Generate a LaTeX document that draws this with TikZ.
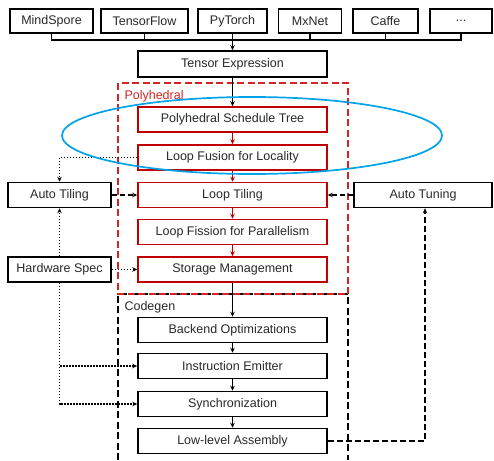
\documentclass[tikz,border=0pt]{standalone}
\usepackage{fontspec}
\setmainfont{Liberation Sans}
\usetikzlibrary{arrows.meta}

\definecolor{txtgray}{RGB}{40,40,40}
\definecolor{boxred}{RGB}{192,0,0}
\definecolor{dashred}{RGB}{212,36,36}
\definecolor{ellblue}{RGB}{0,162,232}

\begin{document}
\begin{tikzpicture}[x=1pt,y=-1pt,
  lbl/.style={font=\fontsize{12.5}{14}\selectfont, text=txtgray},
  box/.style={lbl, draw=black, line width=1.5pt, minimum width=189pt,
              minimum height=25pt, inner sep=0pt},
  redbox/.style={box, draw=boxred},
  tip/.style={-{Stealth[length=5pt,width=4.5pt]}},
  arr/.style={tip, line width=1.3pt},
  redarr/.style={arr, draw=boxred},
  dotarr/.style={arr, line width=1.5pt, dash pattern=on 1.5pt off 1.5pt},
  dasharr/.style={arr, line width=1.4pt, dash pattern=on 5pt off 3pt},
  bus/.style={line width=1.3pt}
]
\useasboundingbox (0,0) rectangle (494,460);

% front-end frameworks
\node[box, minimum width=83pt, minimum height=24pt] (ms) at (51.5,21) {MindSpore};
\node[box, minimum width=87pt, minimum height=24pt] (tf) at (144.5,21) {TensorFlow};
\node[box, minimum width=69pt, minimum height=24pt] (pt) at (232.5,21) {PyTorch};
\node[box, minimum width=63pt, minimum height=24pt] (mx) at (310,21) {MxNet};
\node[box, minimum width=65pt, minimum height=24pt] (cf) at (385.5,21) {Caffe};
\node[box, minimum width=62pt, minimum height=24pt] (more) at (461,21) {...};

% tensor expression
\node[box, minimum height=26pt] (te) at (232.5,64) {Tensor Expression};

% codegen region (open at the bottom)
\draw[line width=1.6pt, dash pattern=on 7pt off 3.5pt]
  (118,460) -- (118,294) -- (348,294) -- (348,460);
\node[lbl, anchor=west] (cglbl) at (121,307.5) {Codegen};

% polyhedral region
\draw[dashred, line width=1.6pt, dash pattern=on 7pt off 3.5pt]
  (118,83) rectangle (348,294);
\node[lbl, anchor=west, text=dashred] (phlbl) at (121,96.5) {Polyhedral};

% polyhedral passes
\node[redbox] (pst) at (232.5,119.5) {Polyhedral Schedule Tree};
\node[redbox] (lf)  at (232.5,157.5) {Loop Fusion for Locality};
\node[redbox] (lt)  at (232.5,195)   {Loop Tiling};
\node[redbox] (lfp) at (232.5,232)   {Loop Fission for Parallelism};
\node[redbox] (sm)  at (232.5,269.5) {Storage Management};

% codegen passes
\node[box] (bo) at (232.5,330) {Backend Optimizations};
\node[box] (ie) at (232.5,366) {Instruction Emitter};
\node[box] (sy) at (232.5,404) {Synchronization};
\node[box] (ll) at (232.5,441) {Low-level Assembly};

% side boxes
\node[box, minimum width=103pt] (at)  at (59.5,195)  {Auto Tiling};
\node[box, minimum width=103pt] (hw)  at (59.5,269.5) {Hardware Spec};
\node[box, minimum width=138pt] (atu) at (423,195)   {Auto Tuning};

% framework bus
\coordinate (busy) at (0,40);
\draw[bus] (ms.south) -- (ms.south |- busy) -- (more.south |- busy) -- (more.south);
\draw[bus] (tf.south) -- (tf.south |- busy);
\draw[bus] (mx.south) -- (mx.south |- busy);
\draw[bus] (cf.south) -- (cf.south |- busy);
\draw[arr] (pt.south) -- (te.north);

% main flow
\draw[arr] (te.south) -- (pst.north);
\draw[redarr] (pst.south) -- (lf.north);
\draw[redarr] (lf.south) -- (lt.north);
\draw[redarr] (lt.south) -- (lfp.north);
\draw[redarr] (lfp.south) -- (sm.north);
\draw[arr] (sm.south) -- (bo.north);
\draw[arr] (bo.south) -- (ie.north);
\draw[arr] (ie.south) -- (sy.north);
\draw[arr] (sy.south) -- (ll.north);

% side connections
\draw[dotarr] (lf.west) -| (at.north);
\draw[dasharr] (at.east) -- (lt.west);
\draw[dasharr] (atu.west) -- (lt.east);
\draw[dotarr] (hw.north) -- (at.south);
\draw[dotarr] (hw.east) -- (sm.west);
\draw[dotarr] (hw.south) |- (ie.west);
\draw[dotarr] (hw.south) |- (sy.west);
\draw[dasharr, dash pattern=on 6pt off 3pt] (ll.east) -| ([xshift=2pt]atu.south);

% highlighted scheduling stage
\draw[ellblue, line width=1.7pt] (252,135.5) ellipse [x radius=190pt, y radius=38.5pt];
\end{tikzpicture}
\end{document}
